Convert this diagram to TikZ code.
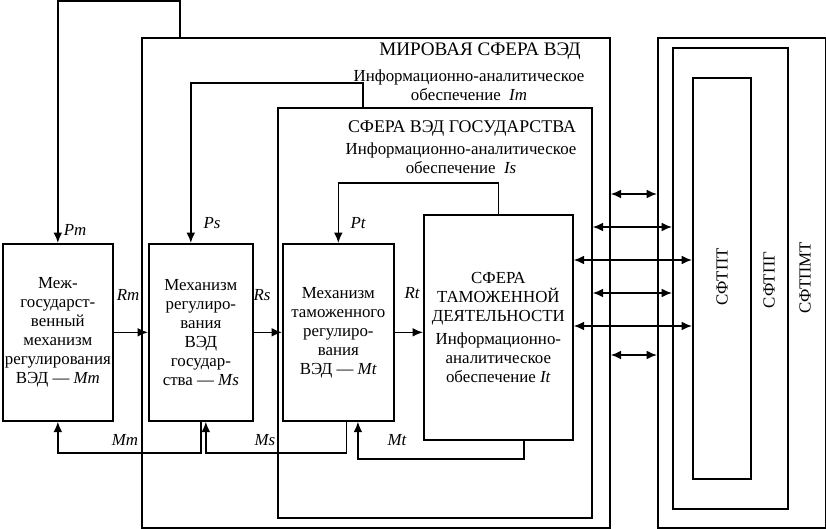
\documentclass[tikz,border=0pt]{standalone}
\usepackage{fontspec}
\setmainfont{Liberation Serif}
\usetikzlibrary{arrows.meta}

\tikzset{
  frame/.style={draw, line width=1.2pt, inner sep=0pt, anchor=north west},
  mech/.style={draw, line width=1.2pt, inner sep=1pt, align=center, anchor=north west},
  link/.style={line width=1.2pt, -{Latex[length=2.6mm,width=2.2mm]}},
  dlink/.style={line width=1.2pt, {Latex[length=2.6mm,width=2.2mm]}-{Latex[length=2.6mm,width=2.2mm]}},
  lbl/.style={font=\fontsize{12}{13.5}\selectfont\itshape},
  head/.style={font=\fontsize{12.7}{14}\selectfont},
}

\begin{document}
\begin{tikzpicture}[x=0.25mm, y=-0.25mm, font=\fontsize{12}{13.5}\selectfont]
  \useasboundingbox (0,0) rectangle (826,529);

  % spheres (frames)
  \node[frame, minimum width=117mm, minimum height=122.5mm] (world) at (141,37) {};
  \node[frame, minimum width=78.5mm, minimum height=102.5mm] (state) at (277,107) {};
  \node[frame, minimum width=42mm, minimum height=122.5mm] (sftpmt) at (657,37) {};
  \node[frame, minimum width=28.75mm, minimum height=115.25mm] (sftpg) at (672,47) {};
  \node[frame, minimum width=14.5mm, minimum height=100.25mm] (sftpt) at (692,77) {};

  % headings of the spheres
  \node[head, font=\fontsize{13.6}{15}\selectfont] (wtitle) at (480,51) {МИРОВАЯ СФЕРА ВЭД};
  \node[align=center] (winfo) at (469,85) {Информационно-аналитическое\\обеспечение~~\textit{Im}};
  \node[head] (stitle) at (462,128) {СФЕРА ВЭД ГОСУДАРСТВА};
  \node[align=center] (sinfo) at (461,158) {Информационно-аналитическое\\обеспечение~~\textit{Is}};
  \node[rotate=90] (tpt) at (722,277) {СФТПТ};
  \node[rotate=90] (tpg) at (769,280) {СФТПГ};
  \node[rotate=90] (tpmt) at (805,278) {СФТПМТ};

  % mechanisms
  \node[mech, minimum width=27.5mm, minimum height=44.25mm] (Mm) at (2,243)
    {Меж-\\государст-\\венный\\механизм\\регулирования\\ВЭД — \textit{Mm}};
  \node[mech, minimum width=26mm, minimum height=44.25mm] (Ms) at (148,243)
    {Механизм\\регулиро-\\вания\\ВЭД\\государ-\\ства — \textit{Ms}};
  \node[mech, minimum width=27.75mm, minimum height=44.25mm] (Mt) at (282,243)
    {Механизм\\таможенного\\регулиро-\\вания\\ВЭД — \textit{Mt}};
  \node[mech, minimum width=37.25mm, minimum height=56.25mm] (It) at (423,214)
    {СФЕРА\\ТАМОЖЕННОЙ\\ДЕЯТЕЛЬНОСТИ\\[3pt]Информационно-\\аналитическое\\обеспечение \textit{It}};

  % inputs from above
  \draw[link] (world.north -| 180,0) -- (180,1) -| (Mm.north);
  \draw[link] (state.north -| 363,0) -- (363,83) -| ([xshift=-2.5mm]Ms.north);
  \draw[link] (It.north) -- ++(0,-31) -| (Mt.north);
  \node[lbl] (pm) at (75,230) {Pm};
  \node[lbl] (ps) at (212,223) {Ps};
  \node[lbl] (pt) at (358,223) {Pt};

  % regulation chain
  \draw[link] (Mm) -- (Ms);
  \draw[link] (Ms) -- (Mt);
  \draw[link] (Mt.east) -- (It.west |- Mt.east);
  \node[lbl] (rm) at (128,295) {Rm};
  \node[lbl] (rs) at (262,295) {Rs};
  \node[lbl] (rt) at (412,293) {Rt};

  % feedback
  \draw[link] (Ms.south) -- ++(0,31) -| (Mm.south);
  \draw[link] ([xshift=2mm]Mt.south) -- ++(0,31) -| ([xshift=1.25mm]Ms.south);
  \draw[link] ([xshift=6.4mm]It.south) -- ++(0,18) -| ([xshift=4.9mm]Mt.south);
  \node[lbl] (mm) at (125,440) {Mm};
  \node[lbl] (ms) at (265,440) {Ms};
  \node[lbl] (mt) at (397,440) {Mt};

  % links to the outer spheres
  \draw[dlink] (world.east |- 0,194) -- (sftpmt.west |- 0,194);
  \draw[dlink] (state.east |- 0,227) -- (sftpg.west |- 0,227);
  \draw[dlink] (It.east |- 0,260) -- (sftpt.west |- 0,260);
  \draw[dlink] (state.east |- 0,293) -- (sftpg.west |- 0,293);
  \draw[dlink] (It.east |- 0,326) -- (sftpt.west |- 0,326);
  \draw[dlink] (world.east |- 0,355) -- (sftpmt.west |- 0,355);
\end{tikzpicture}
\end{document}
